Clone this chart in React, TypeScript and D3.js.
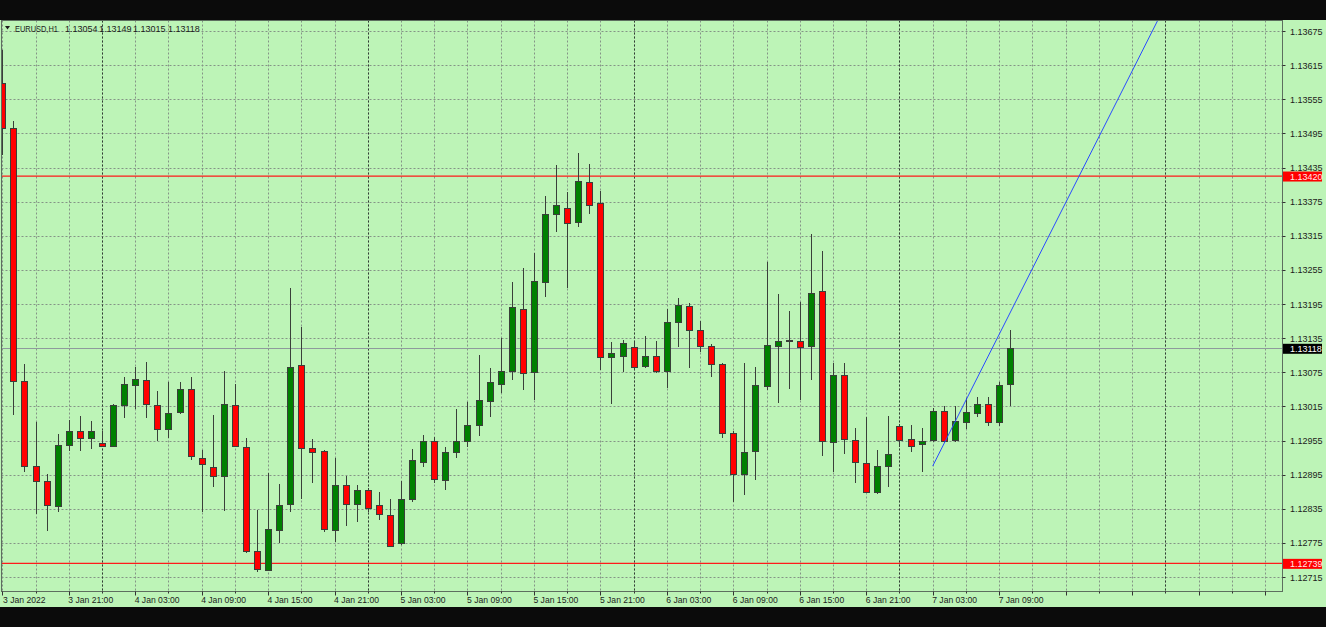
import React from 'react';
import * as d3 from 'd3';

const W = 1326;
const H = 627;

const symbolTitle = 'EURUSD,H1';
const titleOHLC = ['1.13054', '1.13149', '1.13015', '1.13118'];

const opens = [
  1.13584, 1.13504, 1.13060, 1.12910, 1.12884, 1.12839, 1.12947, 1.12971, 1.12960, 1.12951,
  1.12946, 1.13017, 1.13053, 1.13061, 1.13017, 1.12975, 1.13005, 1.13045, 1.12925, 1.12908,
  1.12893, 1.13017, 1.12944, 1.12760, 1.12727, 1.12798, 1.12843, 1.13088, 1.12941, 1.12937,
  1.12798, 1.12876, 1.12843, 1.12868, 1.12842, 1.12824, 1.12774, 1.12853, 1.12917, 1.12954,
  1.12886, 1.12935, 1.12954, 1.12983, 1.13025, 1.13054, 1.13078, 1.13187, 1.13076, 1.13234,
  1.13353, 1.13364, 1.13340, 1.13409, 1.13373, 1.13101, 1.13104, 1.13119, 1.13086, 1.13104,
  1.13077, 1.13163, 1.13191, 1.13150, 1.13121, 1.13090, 1.12969, 1.12896, 1.12937, 1.13050,
  1.13121, 1.13131, 1.13130, 1.13121, 1.13218, 1.12952, 1.13070, 1.12956, 1.12915, 1.12865,
  1.12911, 1.12980, 1.12958, 1.12949, 1.12956, 1.13006, 1.12956, 1.12988, 1.13004, 1.13019,
  1.12988, 1.13054,
];
const highs = [
  1.13642, 1.13516, 1.13090, 1.12987, 1.12896, 1.12966, 1.12991, 1.12998, 1.12989, 1.12972,
  1.13020, 1.13066, 1.13085, 1.13093, 1.13042, 1.13057, 1.13057, 1.13066, 1.12939, 1.12999,
  1.13077, 1.13055, 1.12959, 1.12833, 1.12897, 1.12879, 1.13223, 1.13155, 1.12957, 1.12939,
  1.12925, 1.12893, 1.12876, 1.12871, 1.12864, 1.12853, 1.12884, 1.12940, 1.12965, 1.12961,
  1.12944, 1.13010, 1.13022, 1.13105, 1.13082, 1.13136, 1.13234, 1.13258, 1.13284, 1.13385,
  1.13439, 1.13392, 1.13460, 1.13442, 1.13394, 1.13128, 1.13132, 1.13129, 1.13139, 1.13130,
  1.13187, 1.13205, 1.13196, 1.13165, 1.13125, 1.13091, 1.12972, 1.13092, 1.13084, 1.13268,
  1.13213, 1.13183, 1.13199, 1.13318, 1.13288, 1.13092, 1.13091, 1.12977, 1.12997, 1.12939,
  1.12998, 1.12984, 1.12982, 1.12977, 1.13012, 1.13016, 1.13016, 1.13029, 1.13031, 1.13032,
  1.13058, 1.13149,
];
const lows = [
  1.13457, 1.12999, 1.12900, 1.12825, 1.12796, 1.12830, 1.12936, 1.12937, 1.12940, 1.12943,
  1.12944, 1.12995, 1.13011, 1.12995, 1.12954, 1.12960, 1.13002, 1.12921, 1.12830, 1.12873,
  1.12831, 1.12943, 1.12757, 1.12723, 1.12725, 1.12774, 1.12830, 1.12852, 1.12881, 1.12795,
  1.12777, 1.12805, 1.12812, 1.12829, 1.12815, 1.12768, 1.12771, 1.12847, 1.12908, 1.12880,
  1.12868, 1.12925, 1.12944, 1.12963, 1.12997, 1.13038, 1.13061, 1.13044, 1.13026, 1.13208,
  1.13322, 1.13224, 1.13330, 1.13354, 1.13079, 1.13019, 1.13075, 1.13079, 1.13082, 1.13074,
  1.13047, 1.13120, 1.13083, 1.13111, 1.13067, 1.12959, 1.12847, 1.12860, 1.12886, 1.13044,
  1.13021, 1.13046, 1.13026, 1.13061, 1.12928, 1.12900, 1.12932, 1.12880, 1.12864, 1.12861,
  1.12873, 1.12944, 1.12935, 1.12899, 1.12953, 1.12951, 1.12953, 1.12976, 1.12997, 1.12981,
  1.12980, 1.13015,
];
const closes = [
  1.13504, 1.13060, 1.12910, 1.12884, 1.12841, 1.12947, 1.12971, 1.12959, 1.12972, 1.12945,
  1.13017, 1.13054, 1.13063, 1.13020, 1.12975, 1.13003, 1.13045, 1.12927, 1.12913, 1.12893,
  1.13020, 1.12945, 1.12760, 1.12729, 1.12799, 1.12842, 1.13085, 1.12942, 1.12935, 1.12799,
  1.12876, 1.12843, 1.12868, 1.12837, 1.12825, 1.12770, 1.12853, 1.12920, 1.12954, 1.12887,
  1.12935, 1.12955, 1.12982, 1.13026, 1.13058, 1.13077, 1.13189, 1.13074, 1.13235, 1.13353,
  1.13369, 1.13338, 1.13411, 1.13369, 1.13101, 1.13108, 1.13126, 1.13085, 1.13104, 1.13077,
  1.13163, 1.13193, 1.13150, 1.13121, 1.13090, 1.12969, 1.12896, 1.12935, 1.13053, 1.13123,
  1.13130, 1.13131, 1.13120, 1.13215, 1.12955, 1.13070, 1.12957, 1.12917, 1.12865, 1.12911,
  1.12932, 1.12956, 1.12946, 1.12955, 1.13006, 1.12955, 1.12989, 1.13005, 1.13019, 1.12988,
  1.13053, 1.13118,
];

const priceTicks = [
  1.12715, 1.12775, 1.12835, 1.12895, 1.12955, 1.13015, 1.13075, 1.13135, 1.13195,
  1.13255, 1.13315, 1.13375, 1.13435, 1.13495, 1.13555, 1.13615, 1.13675,
];

const timeLabelBars = [0, 6, 12, 18, 24, 30, 36, 42, 48, 54, 60, 66, 72, 78, 84, 90];
const timeLabels = [
  '3 Jan 2022', '3 Jan 21:00', '4 Jan 03:00', '4 Jan 09:00', '4 Jan 15:00', '4 Jan 21:00',
  '5 Jan 03:00', '5 Jan 09:00', '5 Jan 15:00', '5 Jan 21:00', '6 Jan 03:00', '6 Jan 09:00',
  '6 Jan 15:00', '6 Jan 21:00', '7 Jan 03:00', '7 Jan 09:00',
];
const daySeparatorBars = [9, 33, 57, 81, 105];

const levelPrices = [1.1342, 1.12739];
const bidPrice = 1.13118;
const trendBars = [84, 91];
const trendPrices = [1.1291, 1.1318];

const FONT = '"Liberation Sans", Arial, sans-serif';

export default function App() {
  const plotL = 1.5;
  const plotR = 1282.5;
  const plotT = 20.5;
  const plotB = 591.5;

  const x = d3.scaleLinear().domain([0, 115]).range([2.3, 2.3 + 115 * 11.076]);
  const y = d3.scaleLinear().domain([1.12715, 1.13675]).range([577, 31]);
  const px = (v: number) => Math.round(v) + 0.5;

  const gridBars = d3.range(0, 116, 3);

  const candles = opens.map((o, i) => ({ o, h: highs[i], l: lows[i], c: closes[i], i }));

  const slope = (trendPrices[1] - trendPrices[0]) / (trendBars[1] - trendBars[0]);
  const endBar = 140;
  const endPrice = trendPrices[0] + slope * (endBar - trendBars[0]);
  const trendPath = d3.line<[number, number]>()
    .x((d) => x(d[0]))
    .y((d) => y(d[1]))([
      [trendBars[0], trendPrices[0]],
      [endBar, endPrice],
    ]);

  const fmt = d3.format('.5f');

  return (
    <svg
      width={W}
      height={H}
      style={{ position: 'fixed', left: 0, top: 0, display: 'block' }}
      fontFamily={FONT}
    >
      <defs>
        <clipPath id="plotClip">
          <rect x={plotL + 0.5} y={plotT + 0.5} width={plotR - plotL - 1} height={plotB - plotT - 1} />
        </clipPath>
      </defs>
      <rect x={0} y={0} width={W} height={H} fill="#0b0b0b" />
      <rect x={0} y={20} width={W} height={587} fill="#bdf4b7" />

      {priceTicks.map((p) => (
        <line
          key={'hg' + p}
          x1={plotL}
          x2={plotR}
          y1={px(y(p))}
          y2={px(y(p))}
          stroke="#849486"
          strokeDasharray="2,2"
          strokeWidth={1}
        />
      ))}
      {gridBars.map((b) => (
        <line
          key={'vg' + b}
          x1={px(x(b))}
          x2={px(x(b))}
          y1={plotT}
          y2={plotB}
          stroke="#849486"
          strokeDasharray="2,2"
          strokeWidth={1}
        />
      ))}
      {daySeparatorBars.map((b) => (
        <line
          key={'ds' + b}
          x1={px(x(b))}
          x2={px(x(b))}
          y1={plotT}
          y2={plotB}
          stroke="#2f3f31"
          strokeDasharray="2,2"
          strokeWidth={1}
        />
      ))}

      <g clipPath="url(#plotClip)">
        <line x1={plotL} x2={plotR} y1={px(y(bidPrice))} y2={px(y(bidPrice))} stroke="#8e9a9c" strokeWidth={1} />
        {levelPrices.map((p) => (
          <line key={'lv' + p} x1={plotL} x2={plotR} y1={y(p)} y2={y(p)} stroke="#ff1a1a" strokeWidth={1.3} />
        ))}

        {candles.map((d) => {
          const cx = Math.round(x(d.i));
          const bull = d.c > d.o;
          const doji = d.c === d.o;
          const top = Math.round(y(Math.max(d.o, d.c)));
          const bot = Math.round(y(Math.min(d.o, d.c)));
          const hgt = Math.max(bot - top, 1);
          return (
            <g key={'c' + d.i}>
              <line
                x1={cx + 0.5}
                x2={cx + 0.5}
                y1={Math.round(y(d.h))}
                y2={Math.round(y(d.l))}
                stroke="#3a3f3a"
                strokeWidth={1}
              />
              <rect
                x={cx - 3 + 0.5}
                y={top + 0.5}
                width={6}
                height={hgt}
                fill={doji ? '#303830' : bull ? '#008000' : '#ff0000'}
                stroke="#3a3f3a"
                strokeWidth={1}
              />
            </g>
          );
        })}

        <path d={trendPath || ''} fill="none" stroke="#2a4cff" strokeWidth={1} />
      </g>

      <rect
        x={plotL}
        y={plotT}
        width={plotR - plotL}
        height={plotB - plotT}
        fill="none"
        stroke="#5d6e5f"
        strokeWidth={1}
      />

      {priceTicks.map((p) => (
        <g key={'pt' + p}>
          <line x1={plotR} x2={plotR + 3} y1={px(y(p))} y2={px(y(p))} stroke="#333" strokeWidth={1} />
          <text x={1290} y={y(p) + 3.5} fontSize={9} fill="#1c1c1c">
            {fmt(p)}
          </text>
        </g>
      ))}

      {levelPrices.map((p) => (
        <g key={'ll' + p}>
          <rect x={1283} y={y(p) - 4.5} width={39} height={10} fill="#ff0000" />
          <text x={1290} y={y(p) + 3.8} fontSize={9} fill="#ffe8e8">
            {fmt(p)}
          </text>
        </g>
      ))}
      <rect x={1283} y={y(bidPrice) - 4} width={39} height={10} fill="#000000" />
      <text x={1290} y={y(bidPrice) + 4.2} fontSize={9} fill="#ffffff">
        {fmt(bidPrice)}
      </text>

      {gridBars.map((b) => (
        <line
          key={'tt' + b}
          x1={px(x(b))}
          x2={px(x(b))}
          y1={plotB}
          y2={plotB + (b % 6 === 0 ? 4 : 2)}
          stroke="#333"
          strokeWidth={1}
        />
      ))}
      {timeLabels.map((t, k) => (
        <text key={'tl' + k} x={Math.max(x(timeLabelBars[k]) - 0.5, 3)} y={603} fontSize={8.6} fill="#1c1c1c">
          {t}
        </text>
      ))}

      <path d="M5,26 L10,26 L7.5,29.5 Z" fill="#1c1c1c" />
      <text x={15} y={32} fontSize={9} fill="#1c1c1c" textLength={43} lengthAdjust="spacingAndGlyphs">
        {symbolTitle}
      </text>
      {titleOHLC.map((v, k) => (
        <text key={'to' + k} x={[65, 99, 133, 168][k]} y={32} fontSize={9} fill="#1c1c1c">
          {v}
        </text>
      ))}
    </svg>
  );
}
